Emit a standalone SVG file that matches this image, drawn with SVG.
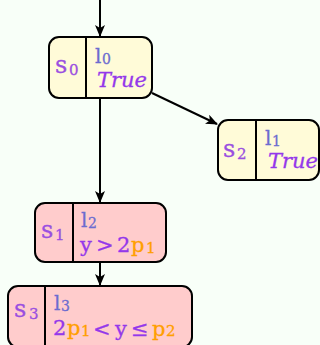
<svg xmlns="http://www.w3.org/2000/svg" width="320" height="345" viewBox="0 0 320 345">
<defs>
<marker id="arr" viewBox="0 0 12 10" refX="11" refY="5" markerWidth="12" markerHeight="10" markerUnits="userSpaceOnUse" orient="auto">
<path d="M0,0 L12,5 L0,10 L3,5 z" fill="#000"/>
</marker>
</defs>
<style>
.bg{fill:#f8fff8}
.box{stroke:#000;stroke-width:2}
.y{fill:#fffbd8}
.r{fill:#ffcccc}
.div{stroke:#000;stroke-width:2}
.edge{stroke:#000;stroke-width:2;fill:none;marker-end:url(#arr)}
text{font-family:"DejaVu Serif","Liberation Serif",serif;stroke-width:0.3px}
.s{fill:#9a4fe0;stroke:#9a4fe0;font-size:24px}
.l{fill:#6c6cd0;stroke:#6c6cd0;font-size:20px}
.m{fill:#9438ea;stroke:#9438ea;font-size:21px}
.it{font-style:italic}
.o{fill:#ff9f00;stroke:#ff9f00}
.sub{font-size:15px}
.lsub{font-size:14px}
</style>
<rect class="bg" x="0" y="0" width="320" height="345"/>
<g id="connectors">
<line class="edge" x1="100" y1="0" x2="100" y2="36"/>
<line class="edge" x1="100" y1="98" x2="100" y2="202"/>
<line class="edge" x1="100" y1="262" x2="100" y2="285"/>
<line class="edge" x1="152" y1="93" x2="217" y2="124"/>
</g>
<g id="s0">
<rect class="box y" x="49" y="37" width="103" height="61" rx="10"/>
<line class="div" x1="86" y1="37" x2="86" y2="98"/>
<text class="s" x="55" y="73">s<tspan class="sub" x="69" y="75">0</tspan></text>
<text class="l" x="95" y="63">l<tspan class="lsub" x="102" y="64">0</tspan></text>
<text class="m it" x="97" y="87">True</text>
</g>
<g id="s2">
<rect class="box y" x="218" y="120" width="101" height="60" rx="10"/>
<line class="div" x1="256" y1="120" x2="256" y2="180"/>
<text class="s" x="223" y="157">s<tspan class="sub" x="237" y="159">2</tspan></text>
<text class="l" x="265" y="145">l<tspan class="lsub" x="272" y="146">1</tspan></text>
<text class="m it" x="268" y="168">True</text>
</g>
<g id="s1">
<rect class="box r" x="35" y="203" width="131" height="59" rx="10"/>
<line class="div" x1="73" y1="203" x2="73" y2="262"/>
<text class="s" x="41" y="238">s<tspan class="sub" x="55" y="240">1</tspan></text>
<text class="l" x="81" y="227">l<tspan class="lsub" x="88" y="228">2</tspan></text>
<text class="m" y="252"><tspan x="80">y</tspan><tspan x="96">&gt;</tspan><tspan x="117">2</tspan><tspan class="o" x="131">p</tspan><tspan class="o sub" x="146" y="253">1</tspan></text>
</g>
<g id="s3">
<rect class="box r" x="8" y="286" width="184" height="61" rx="10"/>
<line class="div" x1="45" y1="286" x2="45" y2="347"/>
<text class="s" x="14" y="317">s<tspan class="sub" x="29" y="319">3</tspan></text>
<text class="l" x="54" y="310">l<tspan class="lsub" x="61" y="311">3</tspan></text>
<text class="m" y="335"><tspan x="53">2</tspan><tspan class="o" x="67">p</tspan><tspan class="o sub" x="81" y="336">1</tspan><tspan x="93">&lt;</tspan><tspan x="115">y</tspan><tspan x="131">≤</tspan><tspan class="o" x="152">p</tspan><tspan class="o sub" x="166" y="336">2</tspan></text>
</g>
</svg>
